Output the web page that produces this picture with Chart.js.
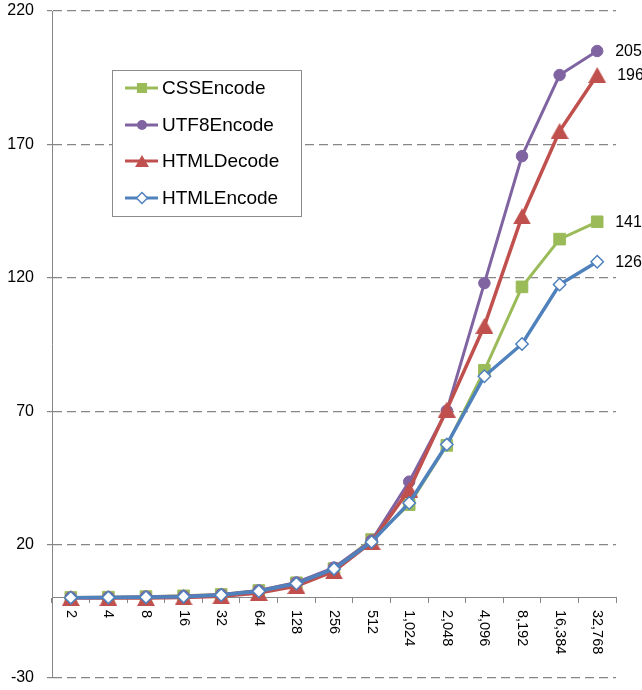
<!DOCTYPE html>
<html><head><meta charset="utf-8">
<script src="https://cdn.jsdelivr.net/npm/chart.js@4.4.1/dist/chart.umd.min.js"></script>
<style>html,body{margin:0;padding:0;background:#fff}#wrap{position:relative;width:642px;height:690px}</style>
</head><body><div id="wrap"><canvas id="c"></canvas></div>
<script>
const categories = ['2','4','8','16','32','64','128','256','512','1,024','2,048','4,096','8,192','16,384','32,768'];
const seriesNames = ['CSSEncode','UTF8Encode','HTMLDecode','HTMLEncode'];
const cssEncode  = [0.2, 0.3, 0.5, 0.8, 1.3, 2.8, 5.7, 11, 21.9, 35, 57.2, 85.3, 116.6, 134.5, 141];
const utf8Encode = [0.2, 0.3, 0.5, 0.7, 1.3, 2.8, 5.8, 11.4, 21.5, 43.6, 70.2, 118, 165.6, 196, 205];
const htmlDecode = [0, 0, 0, 0.2, 0.6, 1.9, 4.5, 10, 21, 40.6, 70.6, 102, 143, 175, 196];
const htmlEncode = [0.1, 0.2, 0.3, 0.5, 1.1, 2.5, 5.4, 10.9, 21, 35.6, 57.5, 83.1, 95.2, 117.5, 126];
const yTicks = [-30, 20, 70, 120, 170, 220];

const FONT = '"Liberation Sans", Arial, sans-serif';
const GREEN = '#9BBB59', PURPLE = '#8064A2', RED = '#C0504D', BLUE = '#4F81BD';
const endOffsets = [18, 18, 20, 18];

// triangle marker centred on its bounding box (as the original chart does)
function triangleImage(w, h, color) {
  const c = document.createElement('canvas');
  c.width = w; c.height = h;
  const g = c.getContext('2d');
  g.fillStyle = color;
  g.beginPath(); g.moveTo(w / 2, 0); g.lineTo(w, h); g.lineTo(0, h); g.closePath(); g.fill();
  return c;
}
const triMarker = triangleImage(18, 16, RED);

function drawMarker(ctx, style, x, y, size, color) {
  ctx.save();
  ctx.fillStyle = color; ctx.strokeStyle = color; ctx.lineWidth = 1;
  ctx.beginPath();
  if (style === 'rect') {
    ctx.rect(x - size, y - size, size * 2, size * 2); ctx.fill();
  } else if (style === 'circle') {
    ctx.arc(x, y, size, 0, Math.PI * 2); ctx.fill();
  } else if (style === 'triangle') {
    const w = size * 0.866;
    ctx.moveTo(x, y - size * 0.75); ctx.lineTo(x + w, y + size * 0.75); ctx.lineTo(x - w, y + size * 0.75); ctx.closePath(); ctx.fill();
  } else if (style === 'rectRot') {
    ctx.moveTo(x - size, y); ctx.lineTo(x, y - size); ctx.lineTo(x + size, y); ctx.lineTo(x, y + size); ctx.closePath();
    ctx.fillStyle = '#fff'; ctx.fill(); ctx.lineWidth = 1.5; ctx.stroke();
  }
  ctx.restore();
}

const overlay = {
  id: 'overlay',
  afterDraw(chart) {
    const ctx = chart.ctx;
    const xs = chart.scales.x, ys = chart.scales.y;
    const y0 = ys.getPixelForValue(0);
    ctx.save();
    ctx.fillStyle = '#000';
    ctx.font = '14.5px ' + FONT;
    ctx.textAlign = 'left'; ctx.textBaseline = 'middle';
    categories.forEach((lab, i) => {
      const x = xs.getPixelForValue(i);
      ctx.save(); ctx.translate(x, y0 + 12); ctx.rotate(Math.PI / 2); ctx.fillText(lab, 0, 0); ctx.restore();
    });
    ctx.font = '16px ' + FONT;
    chart.data.datasets.forEach((ds, di) => {
      const meta = chart.getDatasetMeta(di);
      const pt = meta.data[meta.data.length - 1];
      ctx.fillText(String(Math.round(ds.data[ds.data.length - 1])), pt.x + endOffsets[di], pt.y + 1);
    });
    // legend
    const bx = 112.5, by = 70.5, bw = 189, bh = 146;
    ctx.fillStyle = '#fff'; ctx.fillRect(bx, by, bw, bh);
    ctx.strokeStyle = '#8c8c8c'; ctx.lineWidth = 1; ctx.strokeRect(bx, by, bw, bh);
    const rowsY = [88, 125, 161, 198];
    const lg = [
      {style: 'rect', size: 5, color: GREEN},
      {style: 'circle', size: 5, color: PURPLE},
      {style: 'triangle', size: 8, color: RED},
      {style: 'rectRot', size: 5.5, color: BLUE}
    ];
    ctx.font = '19px ' + FONT;
    seriesNames.forEach((name, i) => {
      const y = rowsY[i];
      ctx.strokeStyle = lg[i].color; ctx.lineWidth = 3;
      ctx.beginPath(); ctx.moveTo(125, y); ctx.lineTo(158, y); ctx.stroke();
      drawMarker(ctx, lg[i].style, 142, y, lg[i].size, lg[i].color);
      ctx.fillStyle = '#000';
      ctx.fillText(name, 162, y + 1);
    });
    ctx.restore();
  }
};

new Chart(document.getElementById('c'), {
  type: 'line',
  data: {
    labels: categories,
    datasets: [
      {label: seriesNames[0], data: cssEncode, borderColor: GREEN, backgroundColor: GREEN, borderWidth: 3,
       pointStyle: 'rect', pointRadius: 8.2, pointBorderColor: GREEN, pointBackgroundColor: GREEN, pointBorderWidth: 1, order: 4},
      {label: seriesNames[1], data: utf8Encode, borderColor: PURPLE, backgroundColor: PURPLE, borderWidth: 3,
       pointStyle: 'circle', pointRadius: 5.75, pointBorderColor: PURPLE, pointBackgroundColor: PURPLE, pointBorderWidth: 1, order: 3},
      {label: seriesNames[2], data: htmlDecode, borderColor: RED, backgroundColor: RED, borderWidth: 3.5,
       pointStyle: triMarker, pointRadius: 9, pointBorderColor: RED, pointBackgroundColor: RED, pointBorderWidth: 1, order: 2},
      {label: seriesNames[3], data: htmlEncode, borderColor: BLUE, backgroundColor: BLUE, borderWidth: 3.5,
       pointStyle: 'rectRot', pointRadius: 6.2, pointBorderColor: BLUE, pointBackgroundColor: '#fff', pointBorderWidth: 1.5, order: 1}
    ]
  },
  options: {
    responsive: true, maintainAspectRatio: false, animation: false, events: [],
    layout: {padding: {top: 0, bottom: 0, right: 26, left: 0}},
    plugins: {legend: {display: false}, tooltip: {enabled: false}},
    scales: {
      x: {
        type: 'category', position: {y: 0}, offset: true,
        grid: {offset: true, drawOnChartArea: false, drawTicks: true, tickLength: 5, color: '#868686', lineWidth: 1},
        border: {display: true, color: '#868686', width: 1},
        ticks: {display: false},
        afterFit: s => { s.height = 0; s.paddingLeft = 0; s.paddingRight = 0; }
      },
      y: {
        min: -30, max: 220,
        afterBuildTicks: s => { s.ticks = yTicks.map(v => ({value: v})); },
        afterFit: s => { s.width = 52; s.paddingTop = 11; s.paddingBottom = 12; },
        ticks: {font: {family: FONT, size: 16}, color: '#000', padding: 13},
        grid: {color: '#868686', lineWidth: 1.2, tickLength: 5, drawTicks: true},
        border: {display: true, color: '#868686', width: 1, dash: [9, 5]}
      }
    }
  },
  plugins: [overlay]
});
</script></body></html>
